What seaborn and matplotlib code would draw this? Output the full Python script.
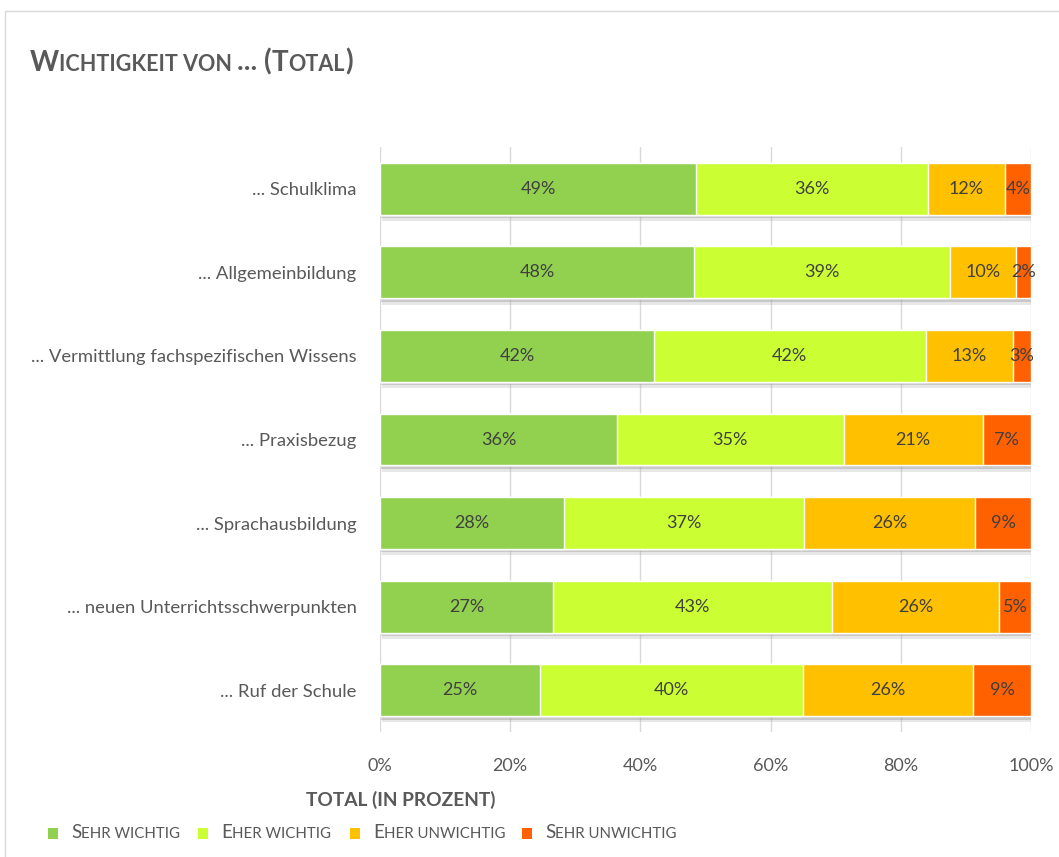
import matplotlib
matplotlib.use("Agg")
import matplotlib.pyplot as plt
import matplotlib.patheffects as pe
from matplotlib.lines import Line2D
from matplotlib.patches import Rectangle
from matplotlib.offsetbox import HPacker, TextArea, DrawingArea, AnnotationBbox
import numpy as np
import seaborn as sns

sns.set_style("white")
plt.rcParams["font.family"] = ["Lato", "DejaVu Sans"]

# ---------------------------------------------------------------------------
# Data (share of answers in percent)
# ---------------------------------------------------------------------------
categories = [
    "... Schulklima",
    "... Allgemeinbildung",
    "... Vermittlung fachspezifischen Wissens",
    "... Praxisbezug",
    "... Sprachausbildung",
    "... neuen Unterrichtsschwerpunkten",
    "... Ruf der Schule",
]
sehr_wichtig = [48.6, 48.3, 42.1, 36.4, 28.2, 26.6, 24.6]
eher_wichtig = [35.6, 39.3, 41.7, 34.8, 37.0, 42.9, 40.4]
eher_unwichtig = [11.8, 10.1, 13.4, 21.4, 26.2, 25.6, 26.1]
sehr_unwichtig = [4.0, 2.3, 2.8, 7.4, 8.6, 4.9, 8.9]
x_ticks = [0, 20, 40, 60, 80, 100]

series = [sehr_wichtig, eher_wichtig, eher_unwichtig, sehr_unwichtig]
colors = ["#92D050", "#CCFF33", "#FFC000", "#FF6000"]
legend_labels = ["Sehr wichtig", "Eher wichtig", "Eher unwichtig", "Sehr unwichtig"]

GREY = "#595959"
DARK = "#404040"

fig = plt.figure(figsize=(10.59, 8.57), dpi=100)
ax = fig.add_axes([380 / 1059, 1 - 732 / 857, 651 / 1059, 585 / 857])

vals = np.array(series)
cum = np.cumsum(vals, axis=0)

# stacked bars: draw the cumulative totals from the longest down
for i in range(len(series) - 1, -1, -1):
    sns.barplot(x=cum[i], y=categories, color=colors[i], saturation=1,
                width=0.62, orient="h", ax=ax, zorder=3)

# soft drop shadow only on the full-length bars (drawn first)
n = len(categories)
for p in ax.patches[:n]:
    p.set_path_effects([pe.SimplePatchShadow(offset=(1.5, -4.5), shadow_rgbFace="#b0b0b0", alpha=0.3),
                        pe.SimplePatchShadow(offset=(1, -2.5), shadow_rgbFace="#909090", alpha=0.35),
                        pe.Normal()])

# segment labels
for i in range(len(series)):
    starts = cum[i] - vals[i]
    for j in range(n):
        ax.text(starts[j] + vals[i][j] / 2, j, f"{round(vals[i][j]):d}%", ha="center", va="center",
                fontsize=13, color=DARK, zorder=5)

ax.set_xlim(0, 100)
ax.set_ylim(n - 0.5, -0.5)
ax.set_xticks(x_ticks)
ax.set_xticklabels([f"{t}%" for t in x_ticks])
ax.xaxis.grid(True, color="#D9D9D9", linewidth=1, zorder=0)
ax.set_axisbelow(True)
for s in ax.spines.values():
    s.set_visible(False)
ax.tick_params(axis="x", length=0, pad=19, labelsize=13, labelcolor=GREY)
ax.tick_params(axis="y", length=0, pad=17, labelsize=13.3, labelcolor=GREY)
ax.set_xlabel("")
ax.set_ylabel("")

fig.text(401 / 1059, 1 - 800 / 857, "TOTAL (IN PROZENT)", ha="center", va="center",
         fontsize=13.8, fontweight="bold", color=GREY)


def small_caps(parts, color, weight="normal"):
    boxes = [TextArea(t, textprops=dict(fontsize=s, color=color, fontweight=weight)) for t, s in parts]
    return HPacker(children=boxes, align="baseline", pad=0, sep=0)


# title in small caps
title = small_caps([("W", 20), ("ICHTIGKEIT VON ", 15.5), ("... (", 20), ("T", 20), ("OTAL", 15.5), (")", 20)],
                   GREY, weight="bold")
fig.add_artist(AnnotationBbox(title, (30, 857 - 62), xycoords="figure pixels",
                              box_alignment=(0, 0.5), frameon=False, pad=0))

# legend (labels in small caps: capital first letter, the rest as small capitals)
legend_x = [48, 198, 350, 522]
for lx, lab, c in zip(legend_x, legend_labels, colors):
    da = DrawingArea(7.5, 7.5, 0, 0)
    da.add_artist(Rectangle((0, 0), 7.5, 7.5, facecolor=c, edgecolor="none"))
    txt = small_caps([(lab[0], 13.5), (lab[1:].upper(), 10.8)], GREY)
    box = HPacker(children=[da, txt], align="baseline", pad=0, sep=9)
    fig.add_artist(AnnotationBbox(box, (lx, 857 - 833), xycoords="figure pixels",
                                  box_alignment=(0, 0.5), frameon=False, pad=0))

# chart area border (top and left edges visible)
fig.add_artist(Line2D([5 / 1059, 5 / 1059], [0, 1 - 11 / 857], transform=fig.transFigure,
                      color="#D9D9D9", linewidth=1))
fig.add_artist(Line2D([5 / 1059, 1], [1 - 11 / 857, 1 - 11 / 857], transform=fig.transFigure,
                      color="#D9D9D9", linewidth=1))

fig.savefig("out.png", dpi=100, facecolor="white")
